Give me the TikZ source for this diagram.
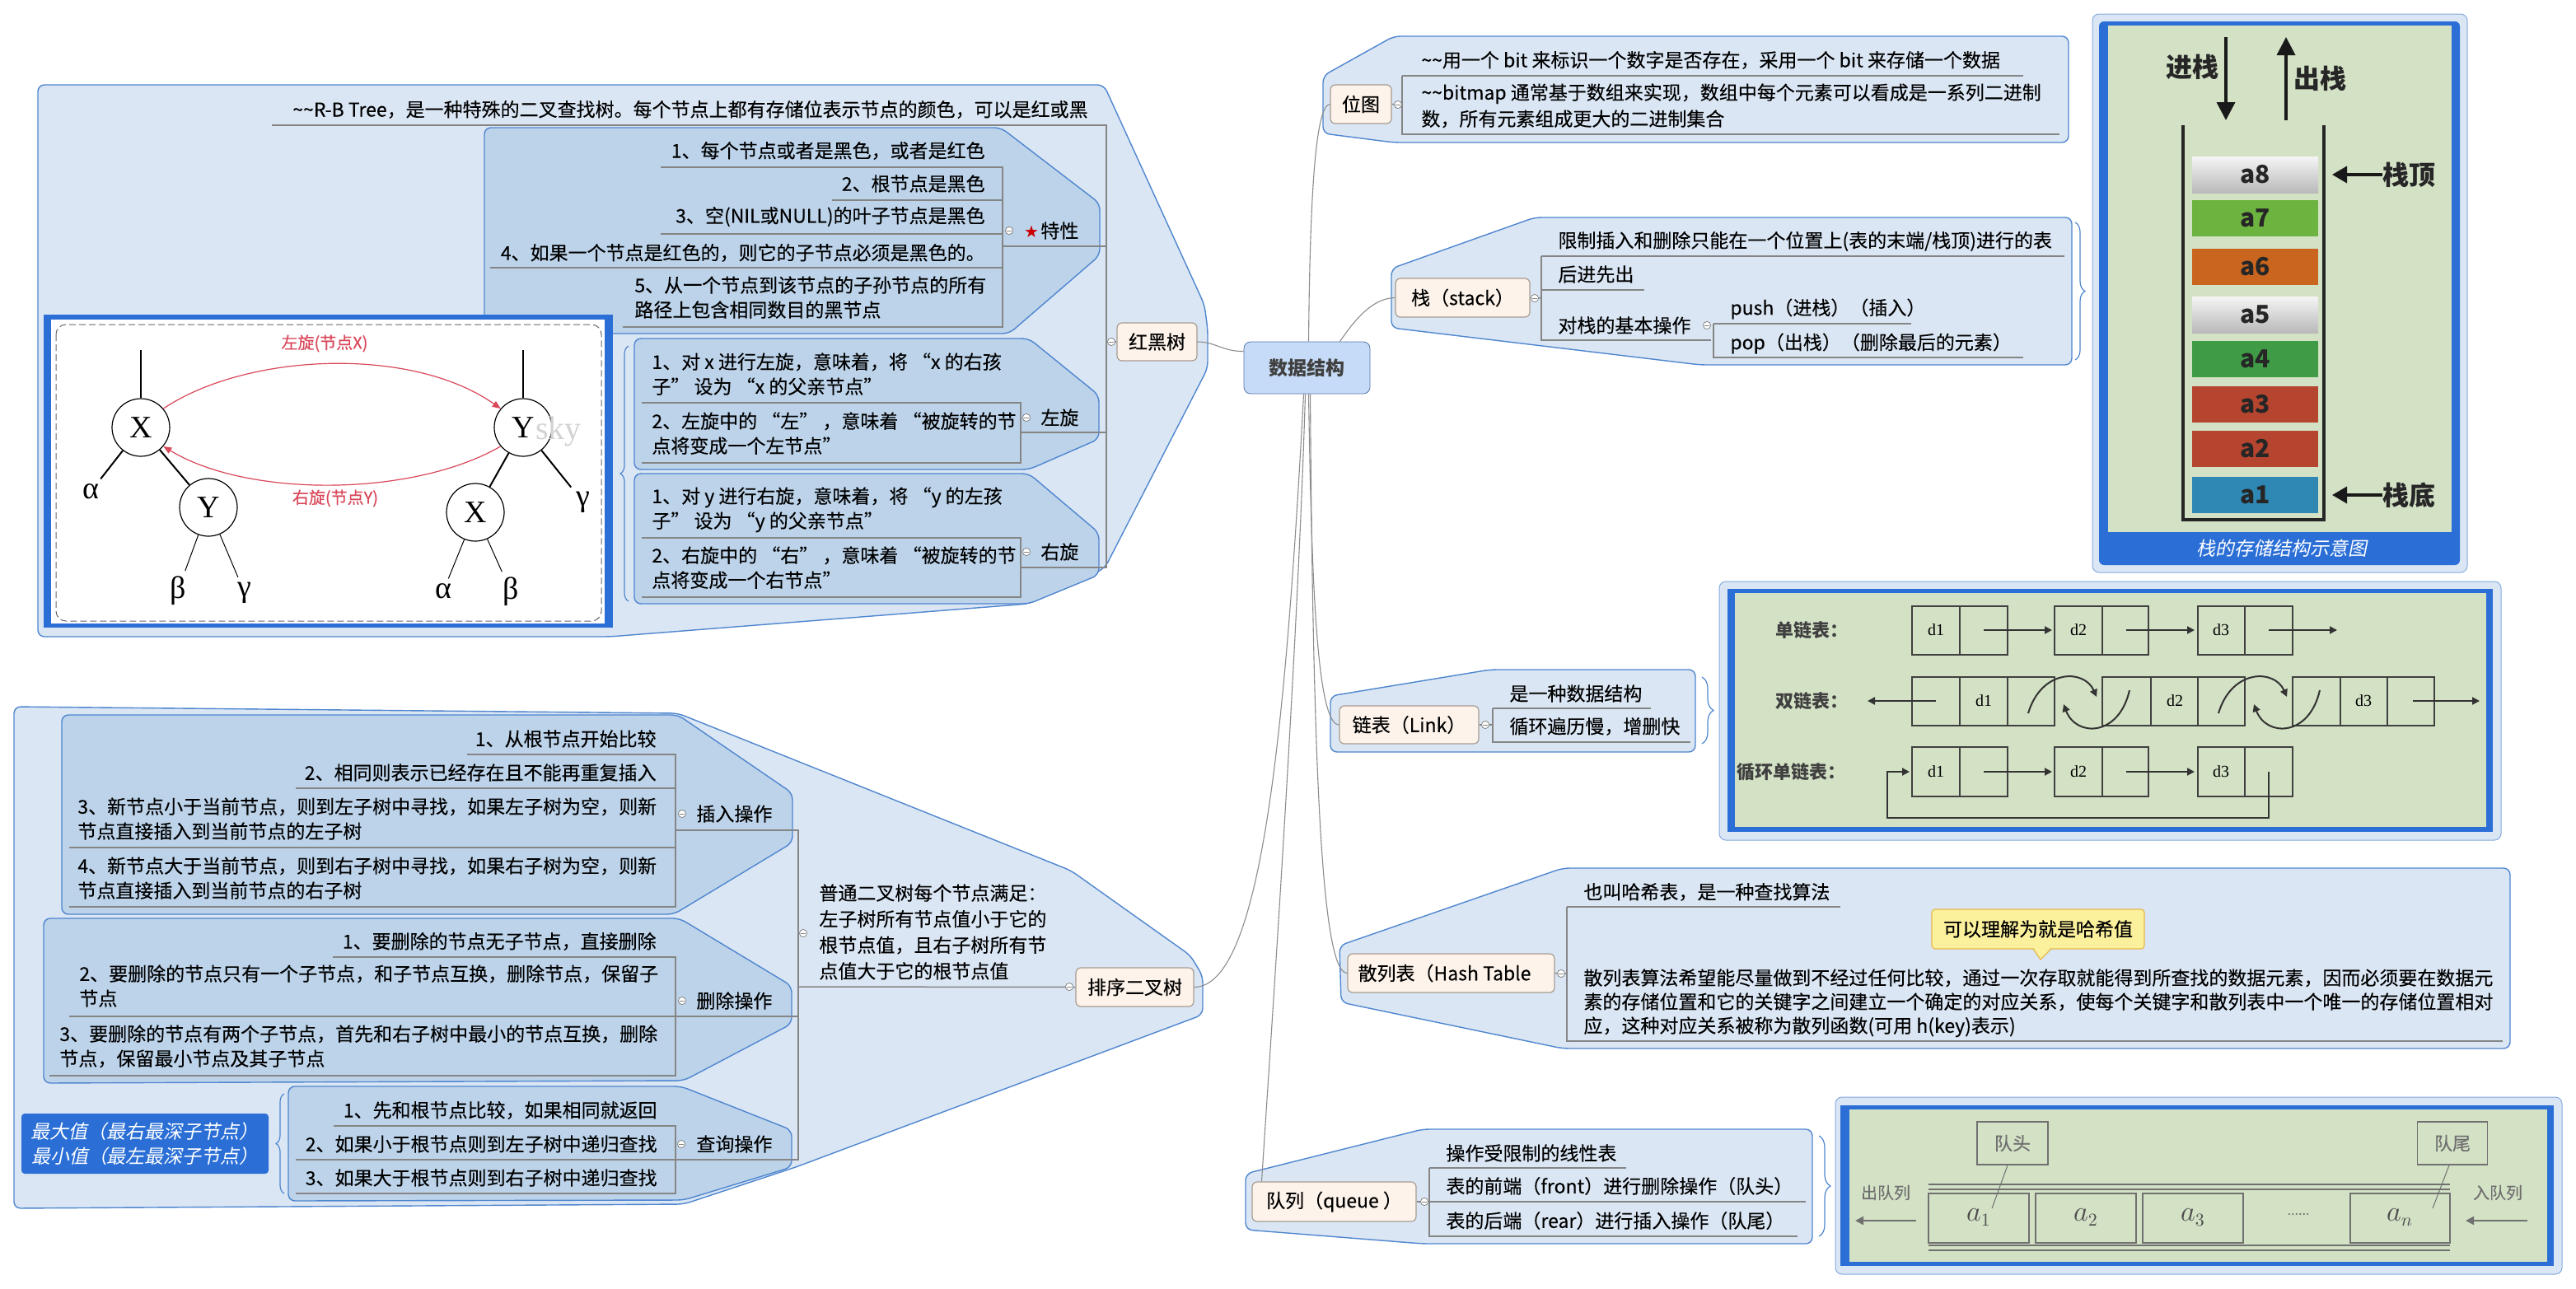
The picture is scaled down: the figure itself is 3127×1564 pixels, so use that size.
\documentclass[tikz,border=0pt]{standalone}
\usepackage{fontspec}
\setmainfont{Noto Sans CJK SC}[AutoFakeSlant=0.2, UprightFeatures={FakeBold=0.2}]
\newfontfamily\serifrm{Liberation Serif}
\newfontfamily\djv{DejaVu Sans}
\usetikzlibrary{arrows.meta,decorations.pathreplacing}
\definecolor{outerfill}{HTML}{DAE6F4}
\definecolor{innerfill}{HTML}{BCD3EA}
\definecolor{grpline}{HTML}{4F86CF}
\definecolor{topicfill}{HTML}{FDF3EA}
\definecolor{topicline}{HTML}{A89C90}
\definecolor{centerfill}{HTML}{C6DBF7}
\definecolor{centerline}{HTML}{5577AA}
\definecolor{ulgray}{HTML}{858585}
\definecolor{conngray}{HTML}{8C8C8C}
\definecolor{frameblue}{HTML}{2B6FD6}
\definecolor{imggreen}{HTML}{D3E1C5}
\definecolor{rotred}{HTML}{D9475A}
\definecolor{qgray}{HTML}{707070}
\definecolor{calloutfill}{HTML}{FBF09C}
\definecolor{calloutline}{HTML}{E6B84C}
\definecolor{blkgreenA}{HTML}{6DB33F}
\definecolor{blkorange}{HTML}{C9651F}
\definecolor{blkgreenB}{HTML}{3F9B46}
\definecolor{blkred}{HTML}{B5452F}
\definecolor{blkblue}{HTML}{2F87B3}
\newcommand\mfs{\fontsize{11.5}{15}\selectfont}
\begin{document}
\begin{tikzpicture}[x=0.5pt,y=-0.5pt,
  tx/.style={inner sep=0pt, font=\mfs, text=black},
  grpO/.style={fill=outerfill, draw=grpline, line width=0.7pt, rounded corners=4pt},
  grpI/.style={fill=innerfill, draw=grpline, line width=0.7pt, rounded corners=4pt},
  topic/.style={draw=topicline, fill=topicfill, rounded corners=3pt, inner sep=0pt, font=\mfs, line width=0.6pt},
  ul/.style={draw=ulgray, line width=0.75pt},
  conn/.style={draw=conngray, line width=0.55pt},
  coll/.style={circle, draw=ulgray, fill=white, inner sep=0pt, minimum size=4.6pt, line width=0.4pt,
     path picture={\draw[ulgray,line width=0.4pt] ([xshift=-1.3pt]path picture bounding box.center)--([xshift=1.3pt]path picture bounding box.center);}},
  brc/.style={draw=grpline, line width=0.6pt, decorate, decoration={brace, amplitude=#1}},
  tc/.style={circle, draw=black, line width=0.6pt, minimum size=35pt, inner sep=0pt, font=\serifrm\fontsize{19}{19}\selectfont},
  gl/.style={inner sep=3pt, font=\serifrm\fontsize{19}{19}\selectfont},
  rotarrow/.style={draw=rotred, line width=0.6pt, -{Triangle[length=5pt,width=4pt]}},
  cell/.style={draw=black!75, line width=1.1pt},
  lar/.style={draw=black!80, line width=1pt, -{Triangle[length=4.5pt,width=4.5pt]}},
  qline/.style={draw=qgray, line width=0.8pt},
  blk/.style={minimum width=76.5pt, minimum height=22pt, inner sep=0pt, font=\fontsize{15}{15}\selectfont\bfseries, text=black!85},
  bigarrow/.style={draw=black!90, line width=1.8pt, -{Triangle[length=11pt,width=11pt]}},
  sidearrow/.style={draw=black!90, line width=1.8pt, -{Triangle[length=9pt,width=10pt]}},
  stx/.style={inner sep=0pt, font=\fontsize{16}{16}\selectfont\bfseries, text=black!85}
]
\useasboundingbox (0,0) rectangle (3127,1564);
\fill[white] (0,0) rectangle (3127,1564);

% ================= RED-BLACK TREE =================
\path[grpO] (46,103) -- (1340,103) -- (1462,370) -- (1466,400) -- (1466,447) -- (1341,690) -- (1249,733) -- (740,773) -- (46,773) -- cycle;
\path[grpI] (588,155) -- (1215,155) -- (1335,247) -- (1335,310) -- (1225,405) -- (588,405) -- cycle;
\path[grpI] (770,411) -- (1249,411) -- (1334,480) -- (1334,533) -- (1249,570) -- (770,570) -- cycle;
\path[grpI] (770,575) -- (1249,575) -- (1334,647) -- (1334,698) -- (1249,733) -- (770,733) -- cycle;

\node[topic, minimum width=48.5pt, minimum height=23pt] (rbt) at (1404.5,415) {红黑树};

\draw[ul] (330,152) -- (1343,152) -- (1343,689) -- (1239,689);
\draw[ul] (1217,299) -- (1343,299);
\draw[ul] (1239,525) -- (1343,525);
\draw[ul] (rbt.west) -- (1343,415);
\draw[ul] (802,203) -- (1217,203) -- (1217,397) -- (756,397);
\draw[ul] (1010,243) -- (1217,243);
\draw[ul] (802,284) -- (1217,284);
\draw[ul] (595,325) -- (1217,325);
\draw[ul] (779,489) -- (1239,489) -- (1239,562) -- (779,562);
\draw[ul] (779,653) -- (1239,653) -- (1239,725) -- (779,725);

\node[coll] (crb) at (1349,415) {};
\node[tx, anchor=east] (rb0) at (1321,133) {\textasciitilde\textasciitilde R-B Tree，是一种特殊的二叉查找树。每个节点上都有存储位表示节点的颜色，可以是红或黑};
\node[tx, anchor=east] (p1) at (1196,183) {1、每个节点或者是黑色，或者是红色};
\node[tx, anchor=east] (p2) at (1196,223) {2、根节点是黑色};
\node[tx, anchor=east] (p3) at (1196,263) {3、空(NIL或NULL)的叶子节点是黑色};
\node[tx, anchor=east] (p4) at (1196,307) {4、如果一个节点是红色的，则它的子节点必须是黑色的。};
\node[tx, anchor=north west, align=left] (p5) at (770,335) {5、从一个节点到该节点的子孙节点的所有\\路径上包含相同数目的黑节点};
\node[coll] (ctx) at (1225,280) {};
\node[inner sep=0pt, text=red!80!black, font=\djv\fontsize{10}{10}\selectfont] (star) at (1252,281) {★};
\node[tx, anchor=west] (trait) at (1263,280) {特性};

\node[tx, anchor=north west, align=left] (l1) at (791,428) {1、对 x 进行左旋，意味着，将 “x 的右孩\\子” 设为 “x 的父亲节点”};
\node[tx, anchor=north west, align=left] (l2) at (791,500) {2、左旋中的 “左” ，意味着 “被旋转的节\\点将变成一个左节点”};
\node[coll] (clx) at (1246,507) {};
\node[tx, anchor=west] (lrot) at (1263,507) {左旋};
\node[tx, anchor=north west, align=left] (r1) at (791,591) {1、对 y 进行右旋，意味着，将 “y 的左孩\\子” 设为 “y 的父亲节点”};
\node[tx, anchor=north west, align=left] (r2) at (791,663) {2、右旋中的 “右” ，意味着 “被旋转的节\\点将变成一个右节点”};
\node[coll] (cry) at (1246,670) {};
\node[tx, anchor=west] (rrot) at (1263,670) {右旋};

\draw[brc=5pt] (763,730) -- (763,420);

% tree image
\fill[frameblue] (53,382) rectangle (744,762);
\fill[white] (62,388) rectangle (734,757);
\draw[black!60, line width=0.5pt, dash pattern=on 4pt off 2pt, rounded corners=6pt] (68,394) rectangle (730,754);
\node[tc] (X1) at (171,519) {X};
\node[tc] (Y1) at (253,616) {Y};
\node[tc] (Y2) at (635,519) {Y};
\node[tc] (X2) at (577,622) {X};
\node[gl] (al1) at (110,597) {α};
\node[gl] (be1) at (216,717) {β};
\node[gl] (ga1) at (297,720) {γ};
\node[gl] (ga2) at (708,610) {γ};
\node[gl] (al2) at (538,718) {α};
\node[gl] (be2) at (620,718) {β};
\coordinate (x1top) at (171,425);
\coordinate (y2top) at (635,425);
\node[anchor=west, inner sep=0pt, text=gray!35, font=\serifrm\fontsize{20}{20}\selectfont] (sky) at (650,524) {sky};
\draw[line width=0.7pt] (X1) -- (x1top);
\draw[line width=0.7pt] (Y2) -- (y2top);
\draw[line width=1pt] (X1) -- (al1);
\draw[line width=1pt] (X1) -- (Y1);
\draw[line width=0.5pt] (Y1) -- (be1);
\draw[line width=0.5pt] (Y1) -- (ga1);
\draw[line width=1pt] (Y2) -- (ga2);
\draw[line width=1pt] (Y2) -- (X2);
\draw[line width=0.5pt] (X2) -- (al2);
\draw[line width=0.5pt] (X2) -- (be2);
\draw[rotarrow] (X1.40) .. controls (300,428) and (500,420) .. (Y2.140);
\draw[rotarrow] (Y2.220) .. controls (500,604) and (300,604) .. (X1.320);
\node[text=rotred, inner sep=0pt, font=\fontsize{10}{10}\selectfont] (lbl1) at (394,417) {左旋(节点X)};
\node[text=rotred, inner sep=0pt, font=\fontsize{10}{10}\selectfont] (lbl2) at (407,605) {右旋(节点Y)};

% ================= SORTED BINARY TREE =================
\path[grpO] (17,858) -- (823,866) -- (1300,1057) -- (1445,1160) -- (1460,1185) -- (1460,1232) -- (966,1417) -- (830,1462) -- (17,1467) -- cycle;
\path[grpI] (75,868) -- (823,868) -- (962,963) -- (962,1023) -- (818,1110) -- (75,1110) -- cycle;
\path[grpI] (53,1115) -- (825,1115) -- (961,1197) -- (961,1243) -- (830,1312) -- (53,1315) -- cycle;
\path[grpI] (350,1319) -- (827,1319) -- (961,1372) -- (961,1417) -- (830,1457) -- (350,1458) -- cycle;

\node[topic, minimum width=71.5pt, minimum height=23.5pt] (sbt) at (1377.5,1198.5) {排序二叉树};

\draw[ul] (969,1198) -- (sbt.west);
\draw[ul] (820,1008) -- (969,1008) -- (969,1408) -- (820,1408);
\draw[ul] (820,1234) -- (969,1234);
\draw[ul] (567,916) -- (820,916) -- (820,1101) -- (84,1101);
\draw[ul] (359,957) -- (820,957);
\draw[ul] (84,1029) -- (820,1029);
\draw[ul] (404,1162) -- (820,1162) -- (820,1306) -- (60,1306);
\draw[ul] (84,1234) -- (820,1234);
\draw[ul] (405,1367) -- (820,1367) -- (820,1449) -- (359,1449);
\draw[ul] (359,1408) -- (820,1408);

\node[coll] (csbt) at (1298,1198) {};
\node[coll] (cord) at (975,1133) {};
\node[tx, anchor=north west, align=left, font=\fontsize{11.5}{15.8}\selectfont] (ord) at (994,1073) {普通二叉树每个节点满足：\\左子树所有节点值小于它的\\根节点值，且右子树所有节\\点值大于它的根节点值};

\node[tx, anchor=east] (i1) at (797,897) {1、从根节点开始比较};
\node[tx, anchor=east] (i2) at (797,938) {2、相同则表示已经存在且不能再重复插入};
\node[tx, anchor=north west, align=left] (i3) at (94,968) {3、新节点小于当前节点，则到左子树中寻找，如果左子树为空，则新\\节点直接插入到当前节点的左子树};
\node[tx, anchor=north west, align=left] (i4) at (94,1040) {4、新节点大于当前节点，则到右子树中寻找，如果右子树为空，则新\\节点直接插入到当前节点的右子树};
\node[coll] (cins) at (828,988) {};
\node[tx, anchor=west] (ins) at (845,988) {插入操作};

\node[tx, anchor=east] (d1) at (797,1143) {1、要删除的节点无子节点，直接删除};
\node[tx, anchor=north west, align=left] (d2) at (96,1171) {2、要删除的节点只有一个子节点，和子节点互换，删除节点，保留子\\节点};
\node[tx, anchor=north west, align=left] (d3) at (72,1244) {3、要删除的节点有两个子节点，首先和右子树中最小的节点互换，删除\\节点，保留最小节点及其子节点};
\node[coll] (cdel) at (828,1215) {};
\node[tx, anchor=west] (del) at (845,1215) {删除操作};

\node[tx, anchor=east] (q1) at (798,1348) {1、先和根节点比较，如果相同就返回};
\node[tx, anchor=east] (q2) at (798,1389) {2、如果小于根节点则到左子树中递归查找};
\node[tx, anchor=east] (q3) at (798,1430) {3、如果大于根节点则到右子树中递归查找};
\node[coll] (cqry) at (827,1389) {};
\node[tx, anchor=west] (qry) at (845,1389) {查询操作};

\draw[brc=5pt] (345,1449) -- (345,1328);
\node[fill=frameblue, rounded corners=2pt, text=white, font=\mfs\itshape, align=left, minimum width=150pt, minimum height=36.5pt, inner sep=0pt] (mm) at (176,1388.5) {最大值（最右最深子节点）\\最小值（最左最深子节点）};

% ================= CENTRAL =================
\node[draw=centerline, fill=centerfill, rounded corners=4pt, minimum width=76.5pt, minimum height=31.5pt, inner sep=0pt, font=\mfs\bfseries, text=black!75] (ds) at (1586.5,446.5) {数据结构};

% ================= BITMAP =================
\path[grpO] (1692,44) -- (2511,44) -- (2511,173) -- (1692,173) -- (1606,162) -- (1606,92) -- cycle;
\node[topic, minimum width=37pt, minimum height=23.5pt] (bmp) at (1652,126.5) {位图};
\draw[ul] (1702,92) -- (2456,92);
\draw[ul] (1702,92) -- (1702,163) -- (2500,163);
\draw[ul] (bmp.east) -- (1702,127);
\node[coll] (cbmp) at (1697,127) {};
\node[tx, anchor=west] (b1) at (1725,73) {\textasciitilde\textasciitilde 用一个 bit 来标识一个数字是否存在，采用一个 bit 来存储一个数据};
\node[tx, anchor=north west, align=left, font=\fontsize{11.5}{16}\selectfont] (b2) at (1725,101) {\textasciitilde\textasciitilde bitmap 通常基于数组来实现，数组中每个元素可以看成是一系列二进制\\数，所有元素组成更大的二进制集合};

% ================= STACK =================
\path[grpO] (1863,264) -- (2515,264) -- (2515,443) -- (2064,443) -- (1689,398) -- (1689,326) -- cycle;
\node[topic, minimum width=81.5pt, minimum height=23.5pt] (stk) at (1775.5,361.5) {栈（stack）};
\draw[ul] (1871,311) -- (2506,311);
\draw[ul] (1871,311) -- (1871,413) -- (2077,413);
\draw[ul] (1871,352) -- (1996,352);
\draw[ul] (2080,393) -- (2320,393);
\draw[ul] (2080,393) -- (2080,434) -- (2456,434);
\draw[ul] (stk.east) -- (1871,362);
\node[coll] (cstk) at (1863,362) {};
\node[coll] (cops) at (2072,395) {};
\node[tx, anchor=west] (s1) at (1891,293) {限制插入和删除只能在一个位置上(表的末端/栈顶)进行的表};
\node[tx, anchor=west] (s2) at (1891,333) {后进先出};
\node[tx, anchor=west] (s3) at (1891,395) {对栈的基本操作};
\node[tx, anchor=west] (s4) at (2100,375) {push（进栈）（插入）};
\node[tx, anchor=west] (s5) at (2100,417) {pop（出栈）（删除最后的元素）};
\draw[brc=6pt] (2519,270) -- (2519,437);

% stack image
\path[fill=outerfill, draw=grpline!70, line width=0.5pt, rounded corners=4pt] (2540,17) rectangle (2995,695);
\path[fill=frameblue, rounded corners=3pt] (2548,26) rectangle (2986,686);
\fill[imggreen] (2559,31) rectangle (2976,646);
\node[font=\mfs\itshape, text=white, inner sep=0pt] (stcap) at (2770,666) {栈的存储结构示意图};
\draw[line width=1.8pt, black!85] (2650,152) -- (2650,631) -- (2821,631) -- (2821,152);
\node[blk, top color=gray!8, bottom color=gray!55] (a8) at (2737.5,212) {a8};
\node[blk, fill=blkgreenA] (a7) at (2737.5,265) {a7};
\node[blk, fill=blkorange] (a6) at (2737.5,324) {a6};
\node[blk, top color=gray!8, bottom color=gray!55] (a5) at (2737.5,382) {a5};
\node[blk, fill=blkgreenB] (a4) at (2737.5,436) {a4};
\node[blk, fill=blkred] (a3) at (2737.5,490.5) {a3};
\node[blk, fill=blkred] (a2) at (2737.5,545) {a2};
\node[blk, fill=blkblue] (a1) at (2737.5,601) {a1};
\node[stx] (jz) at (2661,81) {进栈};
\node[stx] (cz) at (2816,95) {出栈};
\node[stx] (zd) at (2924,212) {栈顶};
\node[stx] (zb) at (2924,601) {栈底};
\coordinate (jzA) at (2702,45); \coordinate (jzB) at (2702,146);
\coordinate (czA) at (2775,146); \coordinate (czB) at (2775,45);
\draw[bigarrow] (jzA) -- (jzB);
\draw[bigarrow] (czA) -- (czB);
\coordinate (zdT) at (2831,212); \coordinate (zbT) at (2831,601);
\draw[sidearrow] (zd.west) -- (zdT);
\draw[sidearrow] (zb.west) -- (zbT);

% ================= LINKED LIST =================
\path[grpO] (1809,813) -- (2058,813) -- (2058,913) -- (1615,913) -- (1615,845) -- cycle;
\node[topic, minimum width=84.5pt, minimum height=23pt] (lnk) at (1710.5,880) {链表（Link）};
\draw[ul] (1812,860) -- (2004,860);
\draw[ul] (1812,860) -- (1812,901) -- (2052,901);
\draw[ul] (lnk.east) -- (1812,880);
\node[coll] (clnk) at (1803,880) {};
\node[tx, anchor=west] (k1) at (1832,842) {是一种数据结构};
\node[tx, anchor=west] (k2) at (1832,882) {循环遍历慢，增删快};
\draw[brc=7pt] (2066,822) -- (2066,903);

% linked list image
\path[fill=outerfill, draw=grpline!70, line width=0.5pt, rounded corners=4pt] (2087,706) rectangle (3036,1020);
\fill[frameblue] (2097,715) rectangle (3026,1010);
\fill[imggreen] (2106,720) rectangle (3018,1004);
\node[inner sep=0pt, font=\fontsize{11}{11}\selectfont\bfseries, text=black!75] (t1) at (2199,765) {单链表：};
\node[inner sep=0pt, font=\fontsize{11}{11}\selectfont\bfseries, text=black!75] (t2) at (2199,851) {双链表：};
\node[inner sep=0pt, font=\fontsize{11}{11}\selectfont\bfseries, text=black!75] (t3) at (2174,937) {循环单链表：};
% row 1
\draw[cell] (2321,736) rectangle (2437,795); \draw[cell] (2379,736) -- (2379,795);
\draw[cell] (2494,736) rectangle (2608,795); \draw[cell] (2552,736) -- (2552,795);
\draw[cell] (2668,736) rectangle (2783,795); \draw[cell] (2725,736) -- (2725,795);
\node[font=\serifrm\fontsize{10}{10}\selectfont] (r1d1) at (2350,765) {d1};
\node[font=\serifrm\fontsize{10}{10}\selectfont] (r1d2) at (2523,765) {d2};
\node[font=\serifrm\fontsize{10}{10}\selectfont] (r1d3) at (2696,765) {d3};
\draw[lar] (2408,765) -- (2491,765);
\draw[lar] (2581,765) -- (2664,765);
\draw[lar] (2754,765) -- (2837,765);
% row 2
\draw[cell] (2321,822) rectangle (2494,881); \draw[cell] (2379,822) -- (2379,881); \draw[cell] (2437,822) -- (2437,881);
\draw[cell] (2552,822) rectangle (2725,881); \draw[cell] (2611,822) -- (2611,881); \draw[cell] (2668,822) -- (2668,881);
\draw[cell] (2783,822) rectangle (2955,881); \draw[cell] (2841,822) -- (2841,881); \draw[cell] (2898,822) -- (2898,881);
\node[font=\serifrm\fontsize{10}{10}\selectfont] (r2d1) at (2408,851) {d1};
\node[font=\serifrm\fontsize{10}{10}\selectfont] (r2d2) at (2640,851) {d2};
\node[font=\serifrm\fontsize{10}{10}\selectfont] (r2d3) at (2869,851) {d3};
\draw[lar] (2350,851) -- (2267,851);
\draw[lar] (2929,851) -- (3010,851);
\draw[lar] (2462,866) .. controls (2478,812) and (2530,812) .. (2545,846);
\draw[lar] (2585,838) .. controls (2572,895) and (2520,895) .. (2505,855);
\draw[lar] (2693,866) .. controls (2709,812) and (2761,812) .. (2776,846);
\draw[lar] (2816,838) .. controls (2803,895) and (2751,895) .. (2736,855);
% row 3
\draw[cell] (2321,907) rectangle (2437,967); \draw[cell] (2379,907) -- (2379,967);
\draw[cell] (2494,907) rectangle (2608,967); \draw[cell] (2552,907) -- (2552,967);
\draw[cell] (2668,907) rectangle (2783,967); \draw[cell] (2725,907) -- (2725,967);
\node[font=\serifrm\fontsize{10}{10}\selectfont] (r3d1) at (2350,937) {d1};
\node[font=\serifrm\fontsize{10}{10}\selectfont] (r3d2) at (2523,937) {d2};
\node[font=\serifrm\fontsize{10}{10}\selectfont] (r3d3) at (2696,937) {d3};
\draw[lar] (2408,937) -- (2491,937);
\draw[lar] (2581,937) -- (2664,937);
\draw[lar] (2754,937) -- (2754,993) -- (2291,993) -- (2291,937) -- (2318,937);

% ================= HASH TABLE =================
\path[grpO] (1897,1054) -- (3047,1054) -- (3047,1273) -- (1897,1273) -- (1628,1217) -- (1626,1148) -- cycle;
\node[topic, minimum width=125.5pt, minimum height=23.5pt] (hsh) at (1761.5,1181.5) {\makebox[113pt][l]{散列表（Hash Table}};
\draw[ul] (1902,1101) -- (2234,1101);
\draw[ul] (1902,1101) -- (1902,1264) -- (3038,1264);
\draw[ul] (hsh.east) -- (1902,1182);
\node[coll] (chsh) at (1895,1182) {};
\node[tx, anchor=west] (h1) at (1922,1083) {也叫哈希表，是一种查找算法};
\node[tx, anchor=north west, align=left, font=\fontsize{11.5}{14.5}\selectfont] (h2) at (1922,1176) {散列表算法希望能尽量做到不经过任何比较，通过一次存取就能得到所查找的数据元素，因而必须要在数据元\\素的存储位置和它的关键字之间建立一个确定的对应关系，使每个关键字和散列表中一个唯一的存储位置相对\\应，这种对应关系被称为散列函数(可用 h(key)表示)};
\node[fill=calloutfill, draw=calloutline, line width=0.6pt, rounded corners=2pt, minimum width=129pt, minimum height=24pt, font=\mfs, inner sep=0pt] (call) at (2474,1128) {可以理解为就是哈希值};
\fill[calloutfill] (2468,1150) -- (2477,1165) -- (2490,1150) -- cycle;
\draw[calloutline, line width=0.6pt] (2468,1152) -- (2477,1165) -- (2490,1152);

% ================= QUEUE =================
\path[grpO] (1727,1371) -- (2200,1371) -- (2200,1510) -- (1727,1510) -- (1512,1493) -- (1512,1425) -- cycle;
\node[topic, minimum width=99.5pt, minimum height=24pt] (que) at (1619.5,1459) {队列（queue ）};
\draw[ul] (1735,1418) -- (1974,1418);
\draw[ul] (1735,1418) -- (1735,1501) -- (2182,1501);
\draw[ul] (1735,1459) -- (2192,1459);
\draw[ul] (que.east) -- (1735,1459);
\node[coll] (cque) at (1729,1459) {};
\node[tx, anchor=west] (u1) at (1755,1400) {操作受限制的线性表};
\node[tx, anchor=west] (u2) at (1755,1440) {表的前端（front）进行删除操作（队头）};
\node[tx, anchor=west] (u3) at (1755,1482) {表的后端（rear）进行插入操作（队尾）};
\draw[brc=7pt] (2208,1379) -- (2208,1501);

% queue image
\path[fill=outerfill, draw=grpline!70, line width=0.5pt, rounded corners=4pt] (2228,1332) rectangle (3110,1547);
\fill[frameblue] (2234,1342) rectangle (3100,1537);
\fill[imggreen] (2245,1347) rectangle (3092,1532);
\draw[qgray, line width=1.3pt] (2341,1438) -- (2974,1438);
\draw[qgray, line width=1pt] (2341,1444) -- (2974,1444);
\draw[qgray, line width=1pt] (2341,1512) -- (2974,1512);
\draw[qgray, line width=1.3pt] (2341,1518) -- (2974,1518);
\draw[qline] (2341,1449) rectangle (2463,1509);
\draw[qline] (2471,1449) rectangle (2593,1509);
\draw[qline] (2601,1449) rectangle (2723,1509);
\draw[qline] (2853,1449) rectangle (2974,1509);
\node[text=black!70, font=\fontsize{16}{16}\selectfont] (qa1) at (2402,1478) {$a_1$};
\node[text=black!70, font=\fontsize{16}{16}\selectfont] (qa2) at (2532,1478) {$a_2$};
\node[text=black!70, font=\fontsize{16}{16}\selectfont] (qa3) at (2662,1478) {$a_3$};
\node[text=black!70, font=\fontsize{16}{16}\selectfont] (qan) at (2913,1478) {$a_n$};
\node[text=qgray, font=\fontsize{8}{8}\selectfont] (qdots) at (2790,1474) {......};
\node[qline, minimum width=43pt, minimum height=26pt, inner sep=0pt, text=qgray, font=\fontsize{11}{11}\selectfont] (qh) at (2443,1388) {队头};
\node[qline, minimum width=42.5pt, minimum height=26pt, inner sep=0pt, text=qgray, font=\fontsize{11}{11}\selectfont] (qt) at (2977,1388) {队尾};
\coordinate (qhp) at (2418,1467);
\coordinate (qtp) at (2953,1467);
\draw[qgray, line width=0.5pt] ([xshift=-3pt]qh.south) -- (qhp);
\draw[qgray, line width=0.5pt] ([xshift=-2pt]qt.south) -- (qtp);
\node[text=qgray, inner sep=0pt, font=\fontsize{10}{10}\selectfont] (qout) at (2289,1448) {出队列};
\node[text=qgray, inner sep=0pt, font=\fontsize{10}{10}\selectfont] (qin) at (3032,1448) {入队列};
\coordinate (qoA) at (2326,1482); \coordinate (qoB) at (2252,1482);
\coordinate (qiA) at (3068,1482); \coordinate (qiB) at (2993,1482);
\draw[qgray, line width=1.2pt, -{Triangle[length=5pt,width=5pt]}] (qoA) -- (qoB);
\draw[qgray, line width=1.2pt, -{Triangle[length=5pt,width=5pt]}] (qiA) -- (qiB);

% ================= CENTRAL CONNECTORS =================
\draw[conn] ([yshift=10pt]ds.west) .. controls (1485,427) and (1475,415) .. (rbt.east);
\draw[conn] ([xshift=1pt]ds.north) .. controls (1590,250) and (1596,127) .. (bmp.west);
\draw[conn] ([xshift=20pt]ds.north) .. controls (1650,380) and (1670,362) .. (stk.west);
\draw[conn] ([xshift=1pt]ds.south) .. controls (1592,700) and (1598,880) .. (lnk.west);
\draw[conn] ([xshift=2pt]ds.south) .. controls (1594,950) and (1605,1182) .. (hsh.west);
\draw[conn] ([xshift=-1pt]ds.south) .. controls (1575,800) and (1540,1300) .. ([xshift=-44pt]que.north);
\draw[conn] ([xshift=-2pt]ds.south) .. controls (1560,900) and (1530,1198) .. (sbt.east);
\end{tikzpicture}
\end{document}
